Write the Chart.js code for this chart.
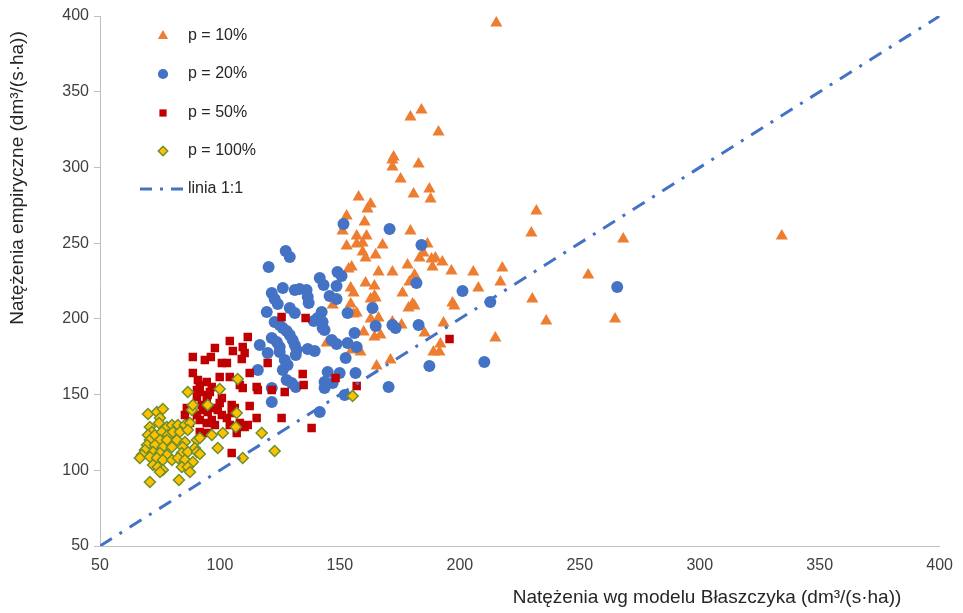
<!DOCTYPE html>
<html>
<head>
<meta charset="utf-8">
<script src="https://cdn.jsdelivr.net/npm/chart.js@4/dist/chart.umd.min.js"></script>
<style>
  body { margin: 0; background: #fff; }
  #wrap { width: 963px; height: 613px; position: relative; }
</style>
</head>
<body>
<div id="wrap"><canvas id="myChart"></canvas></div>
<script>
// series: p = 10%
const p10X = [215.2,184.0,179.4,191.1,172.4,171.9,171.9,182.8,175.3,180.7,187.3,187.8,157.8,162.8,161.5,152.8,160.3,151.1,179.4,157.0,161.1,152.8,157.0,159.5,167.8,159.5,160.7,164.9,186.5,183.2,184.8,188.2,189.8,192.7,188.6,178.2,154.9,153.6,166.1,171.9,196.5,205.6,217.7,181.1,179.0,160.7,164.4,154.5,155.7,164.4,162.8,164.9,176.1,207.7,216.9,231.9,229.8,230.2,236.0,214.8,147.0,154.5,157.0,155.7,180.3,181.1,178.6,196.9,197.7,163.6,162.8,166.1,171.9,175.7,193.2,159.9,164.4,166.9,185.3,191.9,189.0,191.5,144.5,154.9,158.6,171.1,165.3,268.1,334.2,253.5,264.7];
const p10Y = [395.4,337.9,333.3,323.4,306.9,304.9,300.3,302.3,292.4,282.5,285.8,279.2,280.5,275.9,272.5,267.9,264.0,258.0,258.0,254.7,254.7,248.1,249.4,250.1,248.8,244.2,240.2,242.2,249.4,240.2,243.5,239.5,240.2,237.6,234.2,235.6,234.2,232.9,230.9,230.9,231.6,230.9,233.6,229.0,224.3,223.7,221.7,220.4,217.1,215.1,213.1,213.8,217.1,220.4,224.3,271.2,256.7,213.1,198.6,187.4,209.2,209.8,203.9,203.2,209.8,208.5,207.2,210.5,208.5,208.5,199.9,200.6,197.9,195.9,197.3,191.3,188.0,189.3,190.7,183.4,178.1,178.1,184.1,179.4,178.1,172.8,168.9,252.7,254.7,229.0,199.9];

// series: p = 20%
const p20X = [151.5,170.7,184.0,127.4,129.1,120.3,149.0,150.7,141.6,143.2,181.9,148.6,126.2,121.6,131.2,133.2,136.1,145.7,148.6,136.6,122.8,124.1,137.0,201.1,212.7,163.6,153.2,129.1,131.2,119.5,142.4,140.7,139.1,142.8,122.8,124.9,126.2,127.8,129.1,143.6,142.8,156.1,164.9,171.9,173.2,182.8,121.6,123.7,124.9,124.9,116.6,130.3,131.2,132.0,131.6,136.6,139.5,146.6,148.6,153.2,157.0,127.0,128.2,126.2,152.4,115.8,127.8,129.9,131.6,144.9,149.9,156.5,143.6,147.0,210.2,187.3,170.3,152.0,143.6,121.6,265.6,119.9,121.6,141.6];
const p20Y = [262.6,259.3,248.8,244.8,240.8,234.2,230.9,228.3,227.0,222.4,223.7,221.7,220.4,217.1,219.1,219.7,219.1,215.1,213.1,214.4,213.1,209.8,210.5,218.4,211.1,207.2,203.9,207.2,203.9,204.5,204.5,200.6,198.6,197.9,197.9,195.9,194.0,192.0,189.3,192.6,194.0,190.7,195.3,195.9,194.0,195.9,187.4,184.7,181.4,178.1,182.7,186.0,182.7,179.4,176.1,180.1,178.8,186.0,183.4,184.1,181.4,172.8,169.5,166.2,174.2,166.2,159.6,157.6,155.0,164.9,164.2,164.2,158.3,157.6,171.5,168.9,155.0,149.7,154.3,145.1,221.0,177.5,154.3,138.5];

// series: p = 50%
const p50X = [125.7,135.7,111.6,104.1,109.5,110.3,105.4,96.2,93.7,88.7,100.8,102.9,109.1,119.9,112.4,134.5,88.7,90.8,91.6,90.4,99.9,104.1,94.5,96.6,95.8,94.9,108.3,109.5,115.3,115.8,121.6,127.0,134.9,148.2,157.0,195.7,100.8,99.9,94.5,92.4,92.9,94.9,97.0,104.9,106.2,104.9,112.4,86.2,85.4,90.4,99.1,100.8,91.6,94.5,96.6,97.9,102.9,104.1,108.3,110.3,115.3,111.6,125.7,91.6,94.5,87.5,107.0,104.9,138.2,91.6,90.4,97.9];
const p50Y = [201.2,200.6,188.0,185.4,181.4,177.5,178.8,174.8,172.8,174.8,170.8,170.8,173.5,170.8,164.2,163.6,164.2,159.6,156.3,153.0,161.6,161.6,158.3,155.0,151.7,149.7,156.3,154.3,155.0,153.0,153.0,151.7,156.3,160.9,155.7,186.7,147.7,144.4,146.4,143.1,139.8,138.5,141.1,143.1,141.1,137.8,142.5,141.1,136.5,136.5,139.8,136.5,133.2,131.2,133.2,129.9,134.5,129.9,131.2,128.6,134.5,129.9,134.5,125.3,124.6,131.2,124.6,111.4,127.9,151.7,148.4,180.8];

// series: p = 100%
const p100X = [86.6,94.9,88.3,88.7,70.0,73.7,76.2,75.0,74.6,70.8,71.6,70.0,70.8,69.6,68.7,67.5,66.6,77.9,80.0,82.5,85.4,87.5,72.9,75.8,78.3,80.4,83.3,86.6,75.0,77.9,82.0,85.4,90.4,91.6,72.9,76.2,80.0,84.5,89.5,72.1,75.0,77.9,84.1,86.6,90.4,91.6,70.8,73.7,76.2,80.0,82.5,85.4,88.7,72.1,74.1,76.2,75.0,84.1,86.6,87.5,70.8,82.9,107.0,101.2,96.6,99.1,109.5,117.4,122.8,106.6,107.4,99.9,155.3];
const p100Y = [151.7,143.1,139.8,143.1,137.2,138.5,140.5,134.5,131.2,128.6,125.3,123.3,120.0,116.7,113.4,110.1,108.1,128.6,129.9,129.9,129.9,131.2,123.3,125.3,123.3,125.3,125.3,126.6,120.0,120.0,120.0,118.7,120.0,121.3,116.7,115.4,115.4,115.4,114.7,112.1,111.4,110.1,111.4,112.1,112.1,110.8,108.8,108.1,106.8,106.8,108.1,106.8,105.5,103.5,102.2,100.2,98.9,102.2,102.2,98.9,92.3,93.6,137.8,124.6,123.3,114.7,108.1,124.6,112.7,128.6,160.3,153.7,149.1];

// reference line 1:1
const lineX = [50, 400];
const lineY = [50, 400];

const axisTicks = [50, 100, 150, 200, 250, 300, 350, 400];

const seriesNames = ['p = 10%', 'p = 20%', 'p = 50%', 'p = 100%', 'linia 1:1'];
const xTitle = 'Natężenia wg modelu Błaszczyka (dm³/(s·ha))';
const yTitle = 'Natężenia empiryczne (dm³/(s·ha))';

function toPoints(xs, ys) {
  return xs.map((x, i) => ({ x: x, y: ys[i] }));
}

const FONT = '"Liberation Sans", Arial, sans-serif';

const styles = [
  { pointStyle: 'triangle', radius: 7, bg: '#ED7D31', border: '#ED7D31', bw: 0 },
  { pointStyle: 'circle', radius: 6, bg: '#4472C4', border: '#4472C4', bw: 0 },
  { pointStyle: 'rect', radius: 6, bg: '#C00000', border: '#C00000', bw: 0 },
  { pointStyle: 'rectRot', radius: 5.5, bg: '#FFC000', border: '#6A8F2E', bw: 1.5 }
];

function scatterSet(label, xs, ys, st, order) {
  return {
    type: 'scatter',
    label: label,
    data: toPoints(xs, ys),
    pointStyle: st.pointStyle,
    pointRadius: st.radius,
    pointHoverRadius: st.radius,
    backgroundColor: st.bg,
    borderColor: st.border,
    pointBorderWidth: st.bw,
    borderWidth: st.bw,
    order: order
  };
}

// legend + axis titles drawn by hand so they sit where the original has them
const decor = {
  id: 'decor',
  afterDraw(chart) {
    const ctx = chart.ctx;
    const area = chart.chartArea;
    const mx = area.left + 63;
    const tx = area.left + 88;
    const rows = [36, 74, 113, 151, 189];
    ctx.save();
    ctx.font = '16px ' + FONT;
    ctx.textBaseline = 'middle';
    ctx.textAlign = 'left';
    for (let i = 0; i < 4; i++) {
      const st = styles[i];
      ctx.fillStyle = st.bg;
      ctx.strokeStyle = st.border;
      ctx.lineWidth = st.bw;
      Chart.helpers.drawPoint(ctx, { pointStyle: st.pointStyle, radius: st.radius * 0.85, rotation: 0, borderWidth: st.bw }, mx, rows[i]);
      ctx.fillStyle = '#262626';
      ctx.fillText(seriesNames[i], tx, rows[i]);
    }
    // dash-dot sample
    ctx.strokeStyle = '#4472C4';
    ctx.lineWidth = 3;
    ctx.setLineDash([12, 8, 3, 8]);
    ctx.beginPath();
    ctx.moveTo(area.left + 40, rows[4]);
    ctx.lineTo(area.left + 86, rows[4]);
    ctx.stroke();
    ctx.setLineDash([]);
    ctx.fillStyle = '#262626';
    ctx.fillText(seriesNames[4], tx, rows[4]);

    // axis titles
    ctx.font = '19px ' + FONT;
    ctx.fillStyle = '#262626';
    ctx.textAlign = 'center';
    ctx.fillText(xTitle, 707, 598);
    ctx.translate(18, 178);
    ctx.rotate(-Math.PI / 2);
    ctx.fillText(yTitle, 0, 0);
    ctx.restore();
  }
};

const ctx = document.getElementById('myChart').getContext('2d');
const myChart = new Chart(ctx, {
  data: {
    datasets: [
      {
        type: 'line',
        label: seriesNames[4],
        data: toPoints(lineX, lineY),
        borderColor: '#4472C4',
        borderWidth: 3,
        borderDash: [14, 9, 3, 9],
        pointRadius: 0,
        fill: false,
        order: 0
      },
      scatterSet(seriesNames[3], p100X, p100Y, styles[3], 1),
      scatterSet(seriesNames[2], p50X, p50Y, styles[2], 2),
      scatterSet(seriesNames[1], p20X, p20Y, styles[1], 3),
      scatterSet(seriesNames[0], p10X, p10Y, styles[0], 4)
    ]
  },
  options: {
    responsive: true,
    maintainAspectRatio: false,
    animation: false,
    layout: { padding: { top: 16, right: 22, left: 0, bottom: 0 } },
    plugins: {
      legend: { display: false },
      tooltip: { enabled: false }
    },
    scales: {
      x: {
        type: 'linear',
        min: 50,
        max: 400,
        afterFit: s => { s.height = 67; },
        afterBuildTicks: s => { s.ticks = axisTicks.map(v => ({ value: v })); },
        ticks: { font: { size: 16, family: FONT }, color: '#404040', padding: 10 },
        grid: { drawOnChartArea: false, drawTicks: false },
        border: { color: '#BFBFBF', width: 1 }
      },
      y: {
        type: 'linear',
        min: 50,
        max: 400,
        afterFit: s => { s.width = 100; },
        afterBuildTicks: s => { s.ticks = axisTicks.map(v => ({ value: v })); },
        ticks: { font: { size: 16, family: FONT }, color: '#404040', padding: 5 },
        grid: { drawOnChartArea: false, drawTicks: true, tickLength: 6, color: '#BFBFBF' },
        border: { color: '#BFBFBF', width: 1 }
      }
    }
  },
  plugins: [decor]
});
</script>
</body>
</html>
